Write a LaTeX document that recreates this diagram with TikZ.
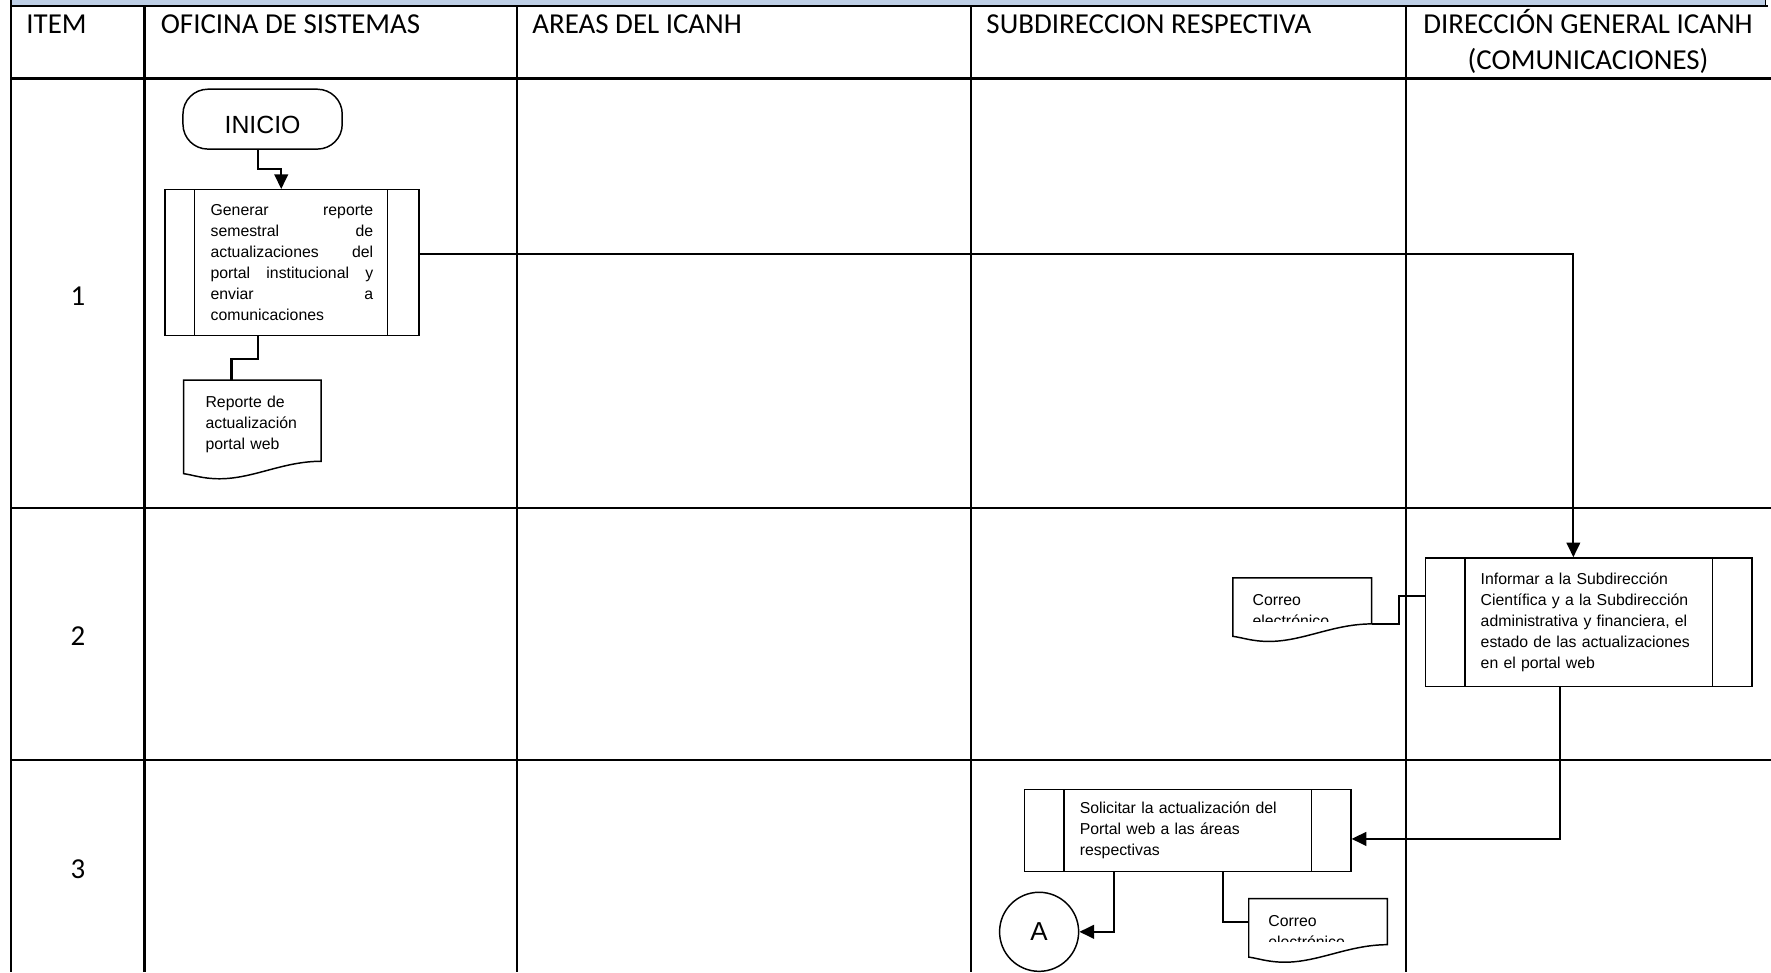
\documentclass[tikz,border=0pt]{standalone}
\usepackage{fontspec}
\setmainfont{Carlito}
\newfontfamily\arialfont{Liberation Sans}
\usetikzlibrary{positioning,calc,arrows.meta}
\definecolor{barblue}{RGB}{190,207,230}
\hyphenpenalty=10000
\exhyphenpenalty=10000
\newcommand\procfont{\arialfont\fontsize{7pt}{9.3pt}\selectfont}
\newcommand\docout[1]{%
  \draw[docline] (#1.north west) -- (#1.north east) -- (#1.south east)
    .. controls +(-34,0) and +(30,0) .. ($(#1.south west)!0.26!(#1.south east)+(0,15.5)$)
    .. controls +(-15,0) and +(8,1) .. ($(#1.south west)+(0,11)$) -- cycle;}

\begin{document}
\begin{tikzpicture}[x=0.5pt,y=-0.5pt,
    grid/.style={line width=1pt},
    hdr/.style={font=\fontsize{12.8pt}{16pt}\selectfont,inner sep=0pt},
    term/.style={draw,line width=0.65pt,rounded corners=11pt,minimum width=70.5pt,
        minimum height=26.5pt,text height=12.9pt,inner ysep=0pt,
        font=\arialfont\fontsize{11pt}{13pt}\selectfont},
    subproc/.style 2 args={draw,line width=0.65pt,font=\procfont,inner sep=0pt,
        path picture={
            \draw[line width=0.65pt] ([xshift=#1]path picture bounding box.north west)
                -- ([xshift=#1]path picture bounding box.south west);
            \draw[line width=0.65pt] ([xshift=-#2]path picture bounding box.north east)
                -- ([xshift=-#2]path picture bounding box.south east);}},
    docnode/.style={font=\procfont,inner ysep=0pt,align=left},
    mail/.style={docnode,inner xsep=8.5pt,text width=44pt,text height=12pt,text depth=8pt},
    docline/.style={line width=0.65pt},
    link/.style={line width=1pt},
    flow/.style={link,-{Triangle[length=6.5pt,width=6pt]}},
    conn/.style={draw,circle,line width=0.65pt,minimum size=35pt,inner sep=0pt,
        font=\arialfont\fontsize{11.5pt}{13pt}\selectfont}]
\useasboundingbox (0,0) rectangle (1568,861);
\clip (0,0) rectangle (1568,861);

\fill[barblue] (9.5,-5) rectangle (1563,4.5);
\draw[line width=0.5pt] (1563,-5) -- (1563,5);
\draw[grid] (9.5,5.6) -- (1565,5.6);
\draw[grid] (9.5,0) -- (9.5,861);
\foreach \x in {128,458,860,1245}
    \draw[grid] (\x,5.6) -- (\x,861);
\foreach \y in {69.5,450,673}
    \draw[grid] (9.5,\y) -- (1568,\y);

\node[hdr,anchor=base west] (hitem) at (23,29.5) {ITEM};
\node[hdr,anchor=base west] (hsis) at (142,29.5) {OFICINA DE SISTEMAS};
\node[hdr,anchor=base west] (hareas) at (471,29.5) {AREAS DEL ICANH};
\node[hdr,anchor=base west] (hsub) at (873,29.5) {SUBDIRECCION RESPECTIVA};
\node[hdr,anchor=base,align=center] (hdir) at (1406,61.5) {DIRECCIÓN GENERAL ICANH\\(COMUNICACIONES)};

\node[hdr] (n1) at (69,262) {1};
\node[hdr] (n2) at (69,563) {2};
\node[hdr] (n3) at (69,770) {3};

\node[term] (inicio) at (232.5,105.5) {INICIO};
\node[subproc={13pt}{14pt},minimum width=112.5pt,minimum height=64.5pt,text width=72pt,align=justify]
    (gen) at (258.5,232.5) {Generar reporte\linebreak semestral de\linebreak actualizaciones del\linebreak
    portal institucional y\linebreak enviar a\linebreak comunicaciones};
\node[docnode,inner xsep=9.5pt,text width=41.5pt,text height=8.5pt,minimum height=35.5pt]
    (rep) at (223.5,372.5) {Reporte de\\actualización\\portal web};
\docout{rep}

\node[subproc={17.5pt}{17.5pt},minimum width=144.5pt,minimum height=57pt,text width=95.5pt]
    (info) at (1406.5,551) {Informar a la Subdirección\\Científica y a la Subdirección\\
    administrativa y financiera, el\\estado de las actualizaciones\\en el portal web};
\begin{scope}
    \clip (1080,500) rectangle (1230,550);
    \node[mail] (mail1) at (1153,532) {Correo electrónico};
\end{scope}
\docout{mail1}

\node[subproc={17.5pt}{17.5pt},minimum width=144.5pt,minimum height=36.25pt,text width=95.5pt]
    (req) at (1051.5,735.25) {Solicitar la actualización del\\Portal web a las áreas\\respectivas};
\node[conn] (circA) at (920,825) {A};
\begin{scope}
    \clip (1095,785) rectangle (1245,834);
    \node[mail] (mail2) at (1167,816) {Correo electrónico};
\end{scope}
\docout{mail2}

\draw[flow] ($(inicio.south)+(-4,0)$) -- ++(0,17) -| ($(gen.north)+(-9.5,0)$);
\draw[link] ($(gen.south)+(-30,0)$) -- ++(0,20) -| ($(rep.north)+(-18.5,0)$);
\draw[flow] ($(gen.east)+(0,-7.5)$) -| ($(info.north)+(-13.5,0)$);
\draw[link] ($(info.west)+(0,-23)$) -- ++(-23,0) |- (mail1.south east);
\draw[flow] ($(info.south)+(-25.5,0)$) |- ($(req.east)+(0,7.5)$);
\draw[flow] ($(req.south)+(-65,0)$) |- (circA.east);
\draw[link] ($(req.south)+(31,0)$) |- (mail2.west);
\end{tikzpicture}
\end{document}
